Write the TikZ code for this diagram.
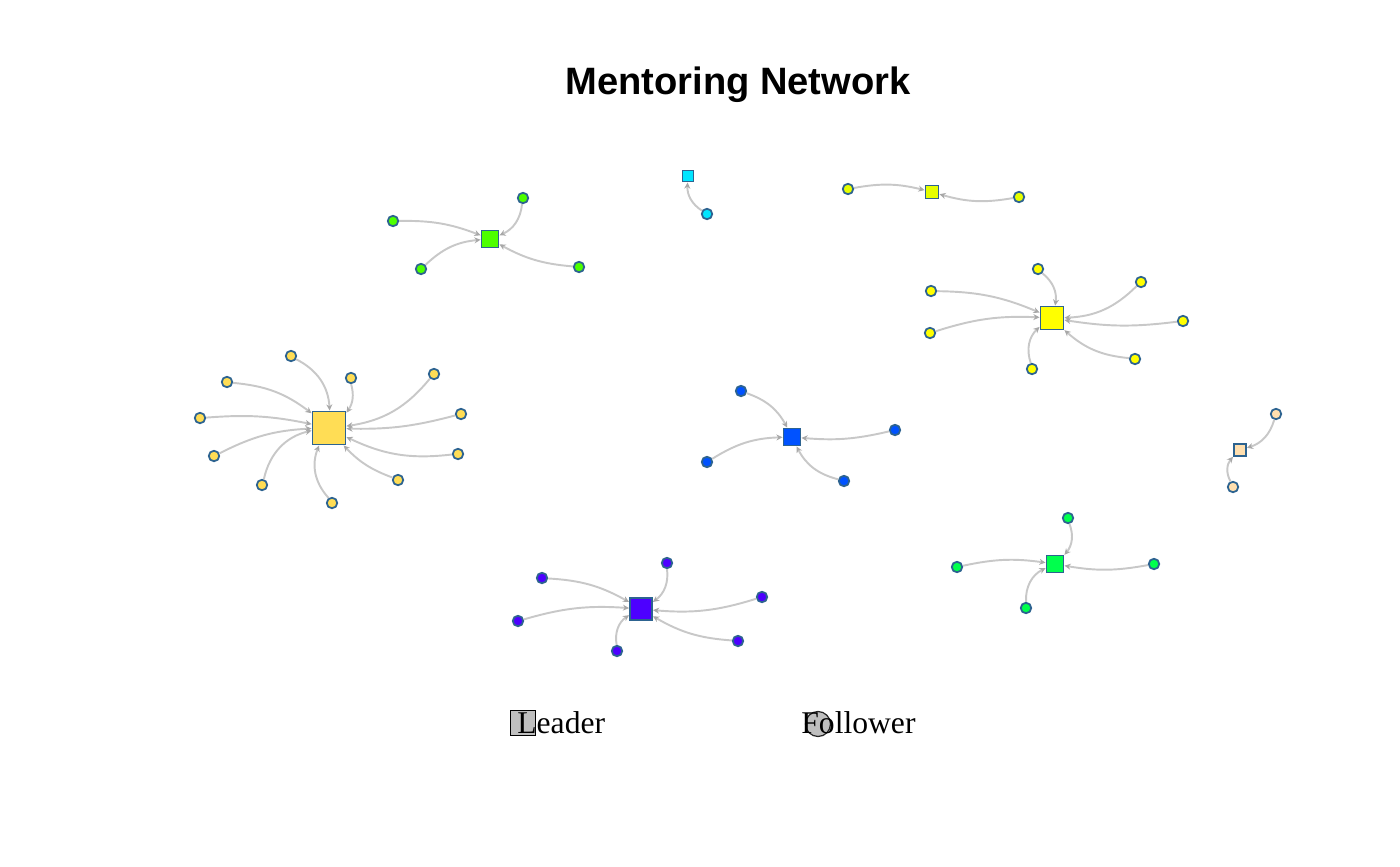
\documentclass[tikz,border=0pt]{standalone}
\usepackage{fontspec}
\setmainfont{Liberation Serif}
\newfontfamily\titlefont{Liberation Sans}
\usepackage{tikz}
\usetikzlibrary{arrows.meta}
\usetikzlibrary{positioning}

\definecolor{goldc}{HTML}{FFDD55}
\definecolor{limec}{HTML}{4DFF00}
\definecolor{cyanc}{HTML}{00E5FF}
\definecolor{citronc}{HTML}{E6FF00}
\definecolor{yellowc}{HTML}{FFFF00}
\definecolor{bluec}{HTML}{0052FF}
\definecolor{violetc}{HTML}{4D00FF}
\definecolor{springc}{HTML}{00FF4D}
\definecolor{peachc}{HTML}{FFDFAF}
\definecolor{bordc}{HTML}{2D6390}
\definecolor{edgec}{HTML}{C8C8C8}
\definecolor{tipc}{HTML}{A8A8A8}

\tikzset{
  leader/.style={rectangle,draw=bordc,line width=1.1pt,inner sep=0pt},
  follower/.style={circle,draw=bordc,line width=1pt,inner sep=0pt,minimum size=0.21cm},
  link/.style={draw=edgec,line width=1.1pt,-{Stealth[length=3.5pt,width=3.4pt,color=tipc]}},
  legtext/.style={anchor=base west,inner sep=0pt,font=\fontsize{18}{22}\selectfont}
}

\begin{document}
\begin{tikzpicture}[x=0.02cm,y=0.02cm]
\useasboundingbox (0,0) rectangle (1400,-866);

\node[anchor=base,inner sep=0pt,font=\titlefont\bfseries\fontsize{21.7}{26}\selectfont] (title) at (738,-94) {Mentoring Network};

\node[leader,fill=goldc,minimum size=0.66cm] (gold) at (329,-428) {};
\node[follower,fill=goldc] (gold1) at (291,-356) {};
\node[follower,fill=goldc] (gold2) at (227,-382) {};
\node[follower,fill=goldc] (gold3) at (200,-418) {};
\node[follower,fill=goldc] (gold4) at (214,-456) {};
\node[follower,fill=goldc] (gold5) at (262,-485) {};
\node[follower,fill=goldc] (gold6) at (332,-503) {};
\node[follower,fill=goldc] (gold7) at (351,-378) {};
\node[follower,fill=goldc] (gold8) at (434,-374) {};
\node[follower,fill=goldc] (gold9) at (461,-414) {};
\node[follower,fill=goldc] (gold10) at (458,-454) {};
\node[follower,fill=goldc] (gold11) at (398,-480) {};
\draw[link] (gold1) to[bend left=30] (gold);
\draw[link] (gold2) to[bend left=16] (gold);
\draw[link] (gold3) to[bend left=8] (gold);
\draw[link] (gold4) to[bend left=12] (gold);
\draw[link] (gold5) to[bend left=32] (gold);
\draw[link] (gold6) to[bend left=32] (gold);
\draw[link] (gold7) to[bend left=25] (gold);
\draw[link] (gold8) to[bend left=21] (gold);
\draw[link] (gold9) to[bend left=8] (gold);
\draw[link] (gold10) to[bend left=16] (gold);
\draw[link] (gold11) to[bend left=13] (gold);

\node[leader,fill=limec,minimum size=0.34cm] (lime) at (490,-239) {};
\node[follower,fill=limec] (lime1) at (393,-221) {};
\node[follower,fill=limec] (lime2) at (523,-198) {};
\node[follower,fill=limec] (lime3) at (421,-269) {};
\node[follower,fill=limec] (lime4) at (579,-267) {};
\draw[link] (lime1) to[bend left=11] (lime);
\draw[link] (lime2) to[bend left=30] (lime);
\draw[link] (lime3) to[bend left=19] (lime);
\draw[link] (lime4) to[bend left=12] (lime);

\node[leader,fill=cyanc,minimum size=0.22cm] (cyan) at (688,-176) {};
\node[follower,fill=cyanc] (cyan1) at (707,-214) {};
\draw[link] (cyan1) to[bend left=30] (cyan);

\node[leader,fill=citronc,minimum size=0.26cm] (citron) at (932,-192) {};
\node[follower,fill=citronc] (citron1) at (848,-189) {};
\node[follower,fill=citronc] (citron2) at (1019,-197) {};
\draw[link] (citron1) to[bend left=12] (citron);
\draw[link] (citron2) to[bend left=13] (citron);

\node[leader,fill=yellowc,minimum size=0.46cm] (yellow) at (1052,-318) {};
\node[follower,fill=yellowc] (yellow1) at (931,-291) {};
\node[follower,fill=yellowc] (yellow2) at (930,-333) {};
\node[follower,fill=yellowc] (yellow3) at (1038,-269) {};
\node[follower,fill=yellowc] (yellow4) at (1141,-282) {};
\node[follower,fill=yellowc] (yellow5) at (1183,-321) {};
\node[follower,fill=yellowc] (yellow6) at (1135,-359) {};
\node[follower,fill=yellowc] (yellow7) at (1032,-369) {};
\draw[link] (yellow1) to[bend left=11] (yellow);
\draw[link] (yellow2) to[bend left=10] (yellow);
\draw[link] (yellow3) to[bend left=30] (yellow);
\draw[link] (yellow4) to[bend left=21] (yellow);
\draw[link] (yellow5) to[bend left=8] (yellow);
\draw[link] (yellow6) to[bend left=18] (yellow);
\draw[link] (yellow7) to[bend left=33] (yellow);

\node[leader,fill=bluec,minimum size=0.34cm] (blue) at (792,-437) {};
\node[follower,fill=bluec] (blue1) at (741,-391) {};
\node[follower,fill=bluec] (blue2) at (707,-462) {};
\node[follower,fill=bluec] (blue3) at (895,-430) {};
\node[follower,fill=bluec] (blue4) at (844,-481) {};
\draw[link] (blue1) to[bend left=21] (blue);
\draw[link] (blue2) to[bend left=15] (blue);
\draw[link] (blue3) to[bend left=9] (blue);
\draw[link] (blue4) to[bend left=24] (blue);

\node[leader,fill=violetc,minimum size=0.44cm] (violet) at (641,-609) {};
\node[follower,fill=violetc] (violet1) at (542,-578) {};
\node[follower,fill=violetc] (violet2) at (518,-621) {};
\node[follower,fill=violetc] (violet3) at (667,-563) {};
\node[follower,fill=violetc] (violet4) at (762,-597) {};
\node[follower,fill=violetc] (violet5) at (738,-641) {};
\node[follower,fill=violetc] (violet6) at (617,-651) {};
\draw[link] (violet1) to[bend left=13] (violet);
\draw[link] (violet2) to[bend left=10] (violet);
\draw[link] (violet3) to[bend left=30] (violet);
\draw[link] (violet4) to[bend left=11] (violet);
\draw[link] (violet5) to[bend left=13] (violet);
\draw[link] (violet6) to[bend left=33] (violet);

\node[leader,fill=springc,minimum size=0.34cm] (spring) at (1055,-564) {};
\node[follower,fill=springc] (spring1) at (957,-567) {};
\node[follower,fill=springc] (spring2) at (1068,-518) {};
\node[follower,fill=springc] (spring3) at (1154,-564) {};
\node[follower,fill=springc] (spring4) at (1026,-608) {};
\draw[link] (spring1) to[bend left=10] (spring);
\draw[link] (spring2) to[bend left=30] (spring);
\draw[link] (spring3) to[bend left=10] (spring);
\draw[link] (spring4) to[bend left=33] (spring);

\node[leader,fill=peachc,minimum size=0.24cm] (peach) at (1240,-450) {};
\node[follower,fill=peachc] (peach1) at (1276,-414) {};
\node[follower,fill=peachc] (peach2) at (1233,-487) {};
\draw[link] (peach1) to[bend left=28] (peach);
\draw[link] (peach2) to[bend left=35] (peach);

\node[rectangle,draw=black,fill=gray!50,line width=0.7pt,minimum size=0.5cm,inner sep=0pt] (legleader) at (523,-723) {};
\node[circle,draw=black!85,fill=gray!50,line width=0.7pt,minimum size=0.5cm,inner sep=0pt] (legfollower) at (818,-724) {};
\node[legtext] (legleadertext) at (517,-733) {Leader};
\node[legtext] (legfollowertext) at (801,-733) {Follower};

\end{tikzpicture}
\end{document}
